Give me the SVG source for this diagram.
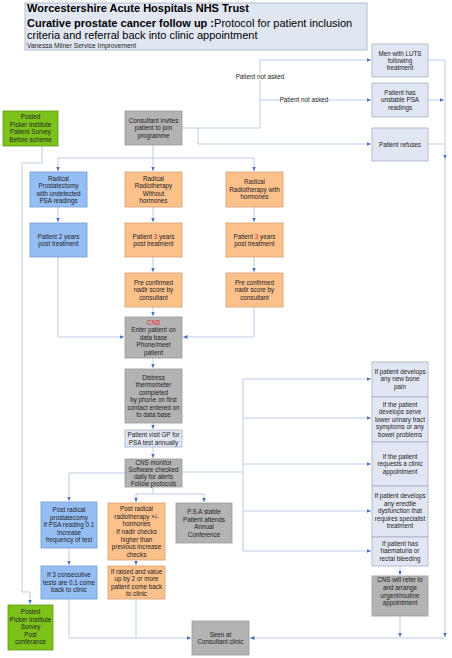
<svg xmlns="http://www.w3.org/2000/svg" width="452" height="658" viewBox="0 0 452 658">
<style>
text{font-family:"Liberation Sans",Arial,sans-serif;font-size:6.3px;fill:#222;text-anchor:middle}
.t{text-anchor:start;fill:#000}
.red{fill:#e8201a}
.blue{fill:#95bef5;stroke:#6f98cf;stroke-width:0.8}
.org{fill:#fcc08b;stroke:#d7a070;stroke-width:0.8}
.gray{fill:#b3b3b3;stroke:#999;stroke-width:0.8}
.lav{fill:#e1e6f3;stroke:#a6aec2;stroke-width:0.8}
.grn{fill:#7dc21a;stroke:#5d9b0e;stroke-width:0.8}
.c path{fill:none;stroke:#b6c7e3;stroke-width:0.9}
.a{marker-end:url(#ar)}
.lbl{fill:#fff}
</style>
<defs>
<marker id="ar" markerUnits="userSpaceOnUse" markerWidth="5" markerHeight="5" refX="4.5" refY="2" orient="auto"><path d="M0,0 L4.5,2 L0,4 z" fill="#4a6fc0"/></marker>
</defs>
<rect width="452" height="658" fill="#fff"/>

<g id="title">
<rect x="25" y="3" width="342" height="47" class="lav"/>
<text class="t" x="27" y="11.5" style="font-size:11px;font-weight:bold">Worcestershire Acute Hospitals NHS Trust</text>
<text class="t" x="27" y="27" style="font-size:11px"><tspan font-weight="bold">Curative prostate cancer follow up :</tspan>Protocol for patient inclusion</text>
<text class="t" x="27" y="38.5" style="font-size:11px">criteria and referral back into clinic appointment</text>
<text class="t" x="27" y="48" style="font-size:6.6px;fill:#222">Vanessa Milner Service Improvement</text>
</g>

<g class="c" id="connectors">
<path d="M182,128 H260 V60 H371" class="a"/>
<path d="M260,100 H371" class="a"/>
<path d="M198,128 V144 H371" class="a"/>
<path d="M428,60 H445 V159" class="a"/>
<path d="M428,100 H444" class="a"/>
<path d="M428,144 H445"/>
<path d="M445,158 V637" class="a"/>
<path d="M445,638 H250" class="a"/>
<path d="M42,146 V163 H22 V592 H30 V604" class="a"/>
<path d="M153,145 V158"/>
<path d="M58,158 H254"/>
<path d="M58,158 V171" class="a"/>
<path d="M153,158 V171" class="a"/>
<path d="M254,158 V171" class="a"/>
<path d="M58,207 V222" class="a"/>
<path d="M153,207 V222" class="a"/>
<path d="M254,207 V222" class="a"/>
<path d="M153,257 V272" class="a"/>
<path d="M254,257 V272" class="a"/>
<path d="M153,307 V316" class="a"/>
<path d="M58,257 V337 H124" class="a"/>
<path d="M254,307 V337 H183" class="a"/>
<path d="M153,358 V368" class="a"/>
<path d="M153,423 V429" class="a"/>
<path d="M153,447 V458" class="a"/>
<path d="M125,473 H69 V501" class="a"/>
<path d="M153,487 V494"/>
<path d="M136,494 H204"/>
<path d="M136,494 V502" class="a"/>
<path d="M204,494 V502" class="a"/>
<path d="M182,472 H243"/>
<path d="M243,379 V551"/>
<path d="M243,379 H371" class="a"/>
<path d="M243,418 H371" class="a"/>
<path d="M243,464 H371" class="a"/>
<path d="M243,511 H371" class="a"/>
<path d="M243,551 H371" class="a"/>
<path d="M69,548 V565" class="a"/>
<path d="M136,560 V565" class="a"/>
<path d="M69,599 V638 H191" class="a"/>
<path d="M136,599 V638"/>
<path d="M400,566 V575" class="a"/>
<path d="M400,616 V637" class="a"/>
<rect x="236" y="73" width="48" height="7" class="lbl"/>
<text x="260" y="79">Patient not asked</text>
<rect x="280" y="96.5" width="48" height="7" class="lbl"/>
<text x="304" y="102.3">Patient not asked</text>
</g>

<g id="luts"><rect x="372" y="44" width="56" height="33" class="lav"/>
<text x="400" y="55.5">Men with LUTS</text><text x="400" y="62.8">following</text><text x="400" y="70.1">treatment</text></g>
<g id="unstable"><rect x="372" y="83" width="56" height="34" class="lav"/>
<text x="400" y="94.5">Patient has</text><text x="400" y="102">unstable PSA</text><text x="400" y="109.5">readings</text></g>
<g id="refuses"><rect x="372" y="128" width="56" height="33" class="lav"/>
<text x="400" y="146.5">Patient refuses</text></g>
<g id="picker1"><rect x="3" y="111" width="55" height="35" class="grn"/>
<text x="30.5" y="119">Posted</text><text x="30.5" y="126.5">Picker Institute</text><text x="30.5" y="134">Patient Survey</text><text x="30.5" y="141.5">Before scheme</text></g>
<g id="consultant"><rect x="125" y="111" width="57" height="34" class="gray"/>
<text x="153.5" y="122.5">Consultant invites</text><text x="153.5" y="130">patient to join</text><text x="153.5" y="137.5">programme</text></g>

<g id="rp"><rect x="30" y="172" width="57" height="35" class="blue"/>
<text x="58.5" y="180.5">Radical</text><text x="58.5" y="188">Prostatectomy</text><text x="58.5" y="195.5">with undetected</text><text x="58.5" y="203">PSA readings</text></g>
<g id="rrwo"><rect x="125" y="172" width="57" height="35" class="org"/>
<text x="153.5" y="180.5">Radical</text><text x="153.5" y="188">Radiotherapy</text><text x="153.5" y="195.5">Without</text><text x="153.5" y="203">hormones</text></g>
<g id="rrw"><rect x="226" y="172" width="57" height="35" class="org"/>
<text x="254.5" y="184">Radical</text><text x="254.5" y="191.5">Radiotherapy with</text><text x="254.5" y="199">hormones</text></g>

<g id="p2"><rect x="30" y="223" width="57" height="34" class="blue"/>
<text x="58.5" y="238.5">Patient 2 years</text><text x="58.5" y="246">post  treatment</text></g>
<g id="p3a"><rect x="125" y="223" width="57" height="34" class="org"/>
<text x="153.5" y="238.5">Patient <tspan class="red">3</tspan> years</text><text x="153.5" y="246">post treatment</text></g>
<g id="p3b"><rect x="226" y="223" width="57" height="34" class="org"/>
<text x="254.5" y="238.5">Patient <tspan class="red">3</tspan> years</text><text x="254.5" y="246">post treatment</text></g>

<g id="nadira"><rect x="125" y="273" width="57" height="34" class="org"/>
<text x="153.5" y="284.5">Pre confirmed</text><text x="153.5" y="292">nadir score by</text><text x="153.5" y="299.5">consultant</text></g>
<g id="nadirb"><rect x="226" y="273" width="57" height="34" class="org"/>
<text x="254.5" y="284.5">Pre confirmed</text><text x="254.5" y="292">nadir score by</text><text x="254.5" y="299.5">consultant</text></g>

<g id="cns"><rect x="125" y="317" width="57" height="41" class="gray"/>
<text x="153.5" y="324.5" class="red">CNS</text><text x="153.5" y="332.2">Enter patient on</text><text x="153.5" y="339.8">data base</text><text x="153.5" y="347.4">Phone/meet</text><text x="153.5" y="355">patient</text></g>
<g id="distress"><rect x="125" y="369" width="57" height="54" class="gray"/>
<text x="153.5" y="379.5">Distress</text><text x="153.5" y="387">thermometer</text><text x="153.5" y="394.6">completed</text><text x="153.5" y="402">by phone on  first</text><text x="153.5" y="409.6">contact entered on</text><text x="153.5" y="417.2">to data base</text></g>
<g id="gp"><rect x="125" y="430" width="57" height="17" class="lav"/>
<text x="153.5" y="437.2">Patient visit GP for</text><text x="153.5" y="444.6">PSA test annually</text></g>
<g id="monitor"><rect x="125" y="459" width="57" height="28" class="gray"/>
<text x="153.5" y="464.8">CNS monitor</text><text x="153.5" y="471.6">Software checked</text><text x="153.5" y="478.8">daily for alerts</text><text x="153.5" y="486">Follow protocols</text></g>

<g id="postrp"><rect x="41" y="502" width="56" height="46" class="blue"/>
<text x="69" y="512">Post radical</text><text x="69" y="519.5">prostatecomy</text><text x="69" y="527">If PSA reading 0.1</text><text x="69" y="534.5">Increase</text><text x="69" y="542">frequency of test</text></g>
<g id="if3"><rect x="41" y="566" width="56" height="33" class="blue"/>
<text x="69" y="577">If 3 consecutive</text><text x="69" y="584.5">tests are 0.1 come</text><text x="69" y="592">back to clinic</text></g>
<g id="postrr"><rect x="108" y="503" width="57" height="57" class="org"/>
<text x="136.5" y="511">Post radical</text><text x="136.5" y="518.7">radiotherapy +/-</text><text x="136.5" y="526.4">hormones</text><text x="136.5" y="534">If nadir checks</text><text x="136.5" y="541.7">higher than</text><text x="136.5" y="549.4">previous increase</text><text x="136.5" y="557">checks</text></g>
<g id="raised"><rect x="108" y="566" width="57" height="33" class="org"/>
<text x="136.5" y="573.5">If raised and value</text><text x="136.5" y="581">up by 2 or more</text><text x="136.5" y="588.5">patient come back</text><text x="136.5" y="596">to clinic</text></g>
<g id="psastable"><rect x="176" y="503" width="56" height="40" class="gray"/>
<text x="204" y="514">P.S.A stable</text><text x="204" y="521.5">Patient attends</text><text x="204" y="529">Annual</text><text x="204" y="536.5">Conference</text></g>
<g id="seen"><rect x="192" y="621" width="57" height="34" class="gray"/>
<text x="220.5" y="636.5">Seen at</text><text x="220.5" y="644">Consultant clinic</text></g>
<g id="picker2"><rect x="8" y="605" width="45" height="45" class="grn"/>
<text x="30.5" y="614">Posted</text><text x="30.5" y="621.5">Picker  Institute</text><text x="30.5" y="629">Survey</text><text x="30.5" y="636.5">Post</text><text x="30.5" y="644">conferance</text></g>

<g id="bone"><rect x="372" y="362" width="56" height="35" class="lav"/>
<text x="400" y="373.5">If patient develops</text><text x="400" y="381">any new bone</text><text x="400" y="388.5">pain</text></g>
<g id="luts2"><rect x="372" y="397" width="56" height="45" class="lav"/>
<text x="400" y="406.5">If the patient</text><text x="400" y="414">develops serve</text><text x="400" y="421.5">lower urinary tract</text><text x="400" y="429">symptoms or any</text><text x="400" y="436.5">bowel problems</text></g>
<g id="request"><rect x="372" y="442" width="56" height="44" class="lav"/>
<text x="400" y="458.5">If the patient</text><text x="400" y="466">requests a clinic</text><text x="400" y="473.5">appointment</text></g>
<g id="erectile"><rect x="372" y="486" width="56" height="51" class="lav"/>
<text x="400" y="498">If patient develops</text><text x="400" y="505.5">any erectile</text><text x="400" y="513">dysfunction that</text><text x="400" y="520.5">requires specialist</text><text x="400" y="528">treatment</text></g>
<g id="haem"><rect x="372" y="537" width="56" height="29" class="lav"/>
<text x="400" y="545.5">If patient has</text><text x="400" y="553">haematuria or</text><text x="400" y="560.5">rectal bleeding</text></g>
<g id="refer"><rect x="372" y="576" width="56" height="40" class="gray"/>
<text x="400" y="582.3">CNS will refer to</text><text x="400" y="590">and arrange</text><text x="400" y="597.7">urgent/routine</text><text x="400" y="605.4">appointment</text></g>
</svg>
